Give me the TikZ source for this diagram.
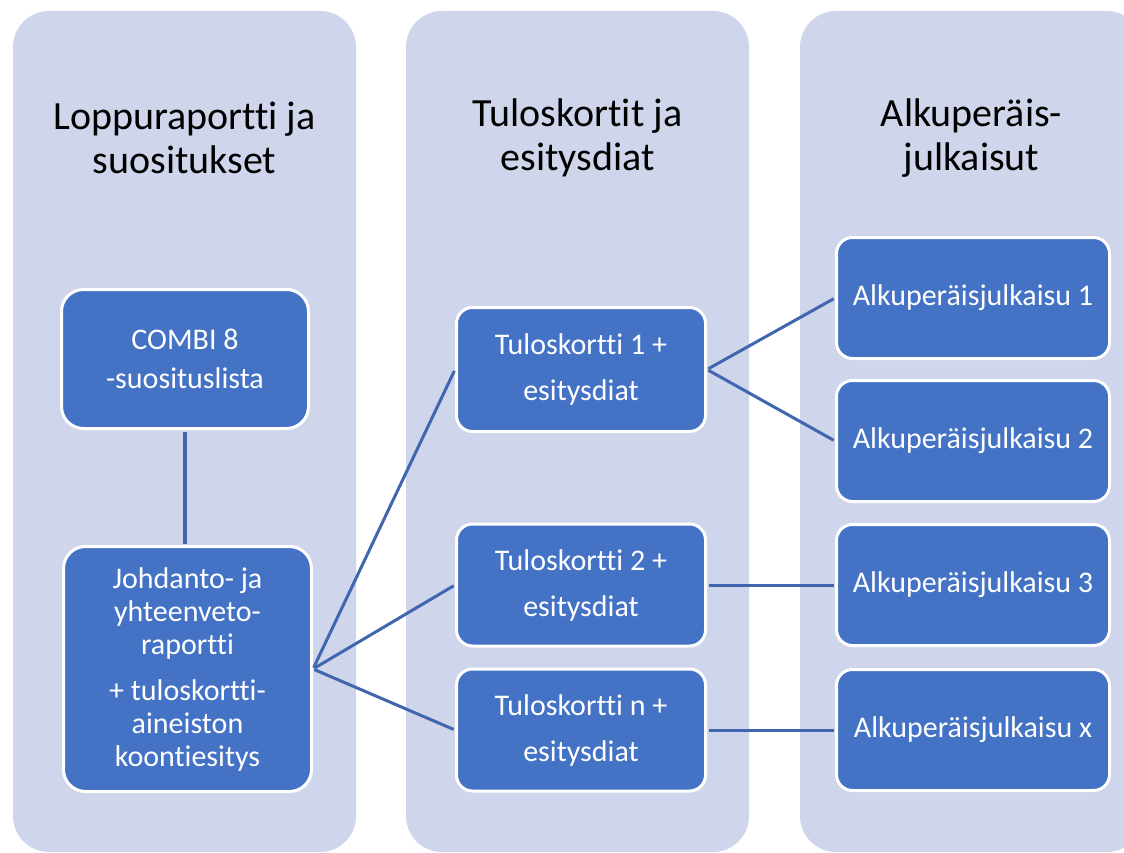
\documentclass[tikz,border=0pt]{standalone}
\usepackage{fontspec}
\setmainfont{Carlito}[Ligatures={NoCommon,NoContextual}]
\definecolor{colbg}{HTML}{CFD5EA}
\definecolor{boxfill}{HTML}{4472C4}
\definecolor{linec}{HTML}{3F66AF}
\begin{document}
\begin{tikzpicture}[x=1pt,y=-1pt,
  column/.style={fill=colbg, rounded corners=36pt},
  title/.style={font=\fontsize{40}{44}\selectfont, align=center, text=black, inner sep=0pt},
  card/.style={draw=white, line width=3pt, fill=boxfill, text=white, rounded corners=16pt,
    align=center, font=\fontsize{30}{33}\selectfont, inner sep=0pt},
  link/.style={draw=linec, line width=3pt, shorten >=1.5pt, shorten <=1.5pt}]
\useasboundingbox (0,0) rectangle (1124,853);
\clip (0,0) rectangle (1124,853);
% columns
\fill[column] (13,11) rectangle (356,852);
\fill[column] (406,11) rectangle (749,852);
\fill[column] (800,11) rectangle (1143,852);
% titles
\node[title] (t-a) at (184.5,138) {Loppuraportti ja\\suositukset};
\node[title] (t-b) at (577.5,138) {Tuloskortit ja\\esitysdiat};
\node[title] (t-c) at (971.5,138) {Alkuperäis-\\julkaisut};
% column 1
\node[card, minimum width=247pt, minimum height=139pt, rounded corners=22pt] (combi) at (185,359) {COMBI 8\\[6pt]-suosituslista};
\node[card, minimum width=248pt, minimum height=245pt, rounded corners=22pt] (johd) at (187.5,669)
  {Johdanto- ja\\yhteenveto-\\raportti\\[13pt]+ tuloskortti-\\aineiston\\koontiesitys};
% column 2
\node[card, minimum width=249pt, minimum height=124pt] (tk1) at (581,369.5) {Tuloskortti 1 +\\[13pt]esitysdiat};
\node[card, minimum width=249pt, minimum height=122pt] (tk2) at (581,585) {Tuloskortti 2 +\\[13pt]esitysdiat};
\node[card, minimum width=249pt, minimum height=122pt] (tkn) at (581,730) {Tuloskortti n +\\[13pt]esitysdiat};
% column 3
\node[card, minimum width=273pt, minimum height=121pt] (ak1) at (973,298) {Alkuperäisjulkaisu 1};
\node[card, minimum width=273pt, minimum height=121pt] (ak2) at (973,441) {Alkuperäisjulkaisu 2};
\node[card, minimum width=273pt, minimum height=121pt] (ak3) at (973,585) {Alkuperäisjulkaisu 3};
\node[card, minimum width=273pt, minimum height=121pt] (akx) at (973,730) {Alkuperäisjulkaisu x};
% connectors
\draw[link, line width=4pt] (combi.south) -- (combi.south |- johd.north);
\draw[link] (johd.east) -- (tk1.west);
\draw[link] (johd.east) -- (tk2.west);
\draw[link] (johd.east) -- (tkn.west);
\draw[link] (tk1.east) -- (ak1.west);
\draw[link] (tk1.east) -- (ak2.west);
\draw[link] (tk2.east) -- (ak3.west);
\draw[link] (tkn.east) -- (akx.west);
\end{tikzpicture}
\end{document}
